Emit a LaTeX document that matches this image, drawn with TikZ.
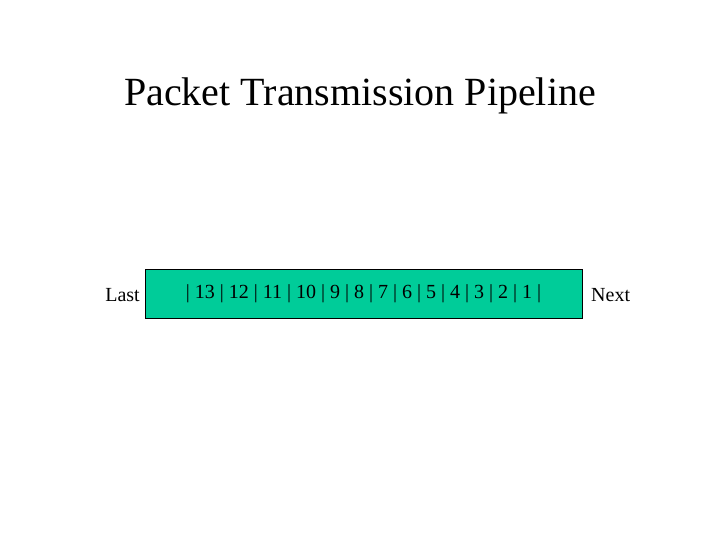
\documentclass[tikz,border=0pt]{standalone}
\usepackage{fontspec}
\setmainfont{Liberation Serif}
\definecolor{boxgreen}{RGB}{0,204,153}
\begin{document}
\begin{tikzpicture}[x=1pt,y=1pt,
  lbl/.style={inner sep=0pt,font=\fontsize{20}{24}\selectfont}]
\useasboundingbox (0,0) rectangle (720,-540);
\node[inner sep=0pt,font=\fontsize{40}{48}\selectfont] (title) at (360,-96) {Packet Transmission Pipeline};
\node[draw=black,fill=boxgreen,line width=0.8pt,minimum width=437,minimum height=49,inner sep=0pt,anchor=center] (pipe) at (363.5,-293.5) {};
\node[lbl] (pkts) at (pipe.center) {| 13 | 12 | 11 | 10 | 9 | 8 | 7 | 6 | 5 | 4 | 3 | 2 | 1 |};
\node[lbl,anchor=east] (last) at (140,-295) {Last};
\node[lbl,anchor=west] (next) at (591,-295) {Next};
\end{tikzpicture}
\end{document}
